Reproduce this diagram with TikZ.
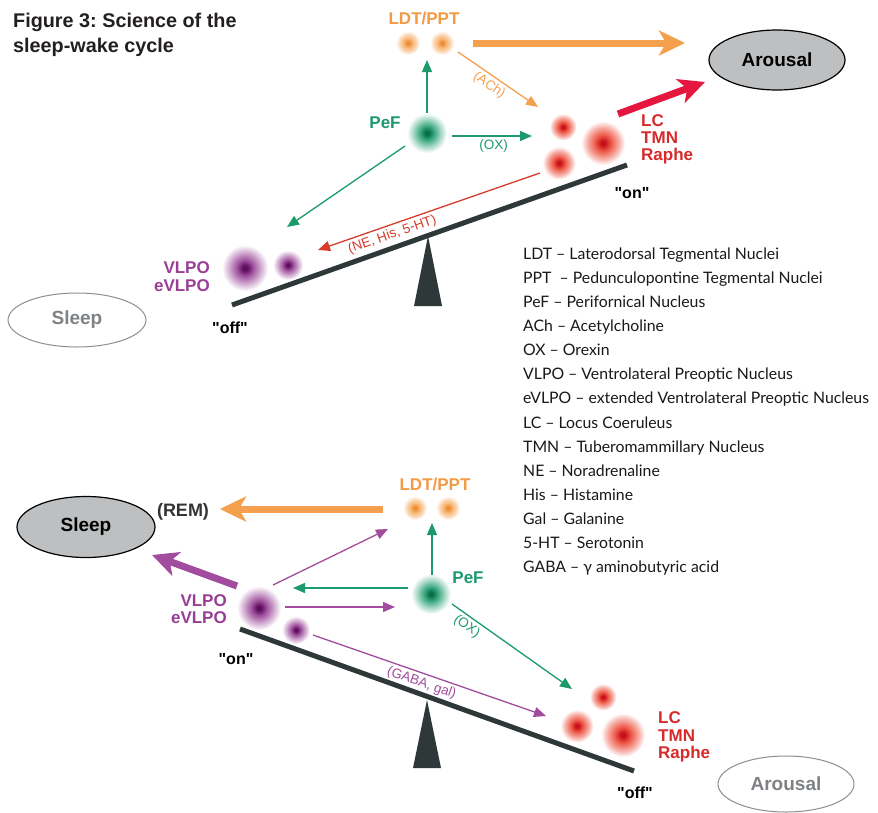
\documentclass[tikz,border=0pt]{standalone}
\usepackage{fontspec}
\setmainfont{Liberation Sans}
\newfontfamily\legfont{Lato}
\newfontfamily\qfont{Liberation Sans}[Ligatures=TeXOff]
\usetikzlibrary{arrows.meta,shapes.geometric}
\frenchspacing

\definecolor{orgC}{HTML}{F5A04E}
\definecolor{orgT}{HTML}{F39A45}
\definecolor{orgK}{HTML}{EE8A2E}
\definecolor{grnC}{HTML}{1B9A6C}
\definecolor{grnK}{HTML}{06704A}
\definecolor{redT}{HTML}{D62B2B}
\definecolor{redC}{HTML}{EA3B26}
\definecolor{redK}{HTML}{C8101A}
\definecolor{redA}{HTML}{E5173E}
\definecolor{redL}{HTML}{D63C2A}
\definecolor{purT}{HTML}{9A3E95}
\definecolor{purC}{HTML}{8A2A88}
\definecolor{purK}{HTML}{5E0E5E}
\definecolor{purA}{HTML}{A24C9E}
\definecolor{darkC}{HTML}{2F3838}
\definecolor{ellF}{HTML}{BDBFC1}
\definecolor{grayO}{HTML}{8C8E90}
\definecolor{grayT}{HTML}{7F8285}
\definecolor{titleC}{HTML}{231F20}

\colorlet{orgM}{orgC!80}\colorlet{orgL}{orgC!40}
\colorlet{grnM}{grnC!85}\colorlet{grnL}{grnC!35}
\colorlet{redM}{redC!85}\colorlet{redLt}{redC!40}
\colorlet{purM}{purC!80}\colorlet{purL}{purC!35}

\pgfdeclareradialshading{dotO}{\pgfpoint{0bp}{0bp}}{color(0bp)=(orgK); color(2.5bp)=(orgK); color(9bp)=(orgM); color(18bp)=(orgL); color(25bp)=(white); color(50bp)=(white)}
\pgfdeclareradialshading{dotG}{\pgfpoint{0bp}{0bp}}{color(0bp)=(grnK); color(2.5bp)=(grnK); color(9bp)=(grnM); color(18bp)=(grnL); color(25bp)=(white); color(50bp)=(white)}
\pgfdeclareradialshading{dotR}{\pgfpoint{0bp}{0bp}}{color(0bp)=(redK); color(2.5bp)=(redK); color(9bp)=(redM); color(18bp)=(redLt); color(25bp)=(white); color(50bp)=(white)}
\pgfdeclareradialshading{dotP}{\pgfpoint{0bp}{0bp}}{color(0bp)=(purK); color(2.5bp)=(purK); color(9bp)=(purM); color(18bp)=(purL); color(25bp)=(white); color(50bp)=(white)}

\begin{document}
\begin{tikzpicture}[x=1pt,y=-1pt,
  lbl/.style={font=\fontsize{17}{18}\selectfont\bfseries, inner sep=0pt},
  onoff/.style={font=\qfont\fontsize{16}{16}\selectfont\bfseries, inner sep=0pt, text=black, anchor=base},
  dotnode/.style={circle, inner sep=0pt, minimum size=#1, shade},
  thinarr/.style={line width=1.3pt, -{Triangle[length=12pt,width=10pt]}},
  fatarr/.style={line width=7pt, -{Stealth[length=26pt,width=25pt,inset=7pt]}},
  seesaw/.style={line width=5pt, draw=darkC},
  conlbl/.style={font=\fontsize{13.5}{13.5}\selectfont, inner sep=3pt, sloped},
  legtxt/.style={font=\legfont\fontsize{15.8}{15.8}\selectfont, anchor=base west, inner sep=0pt, text=black!90},
  ellnode/.style={ellipse, inner sep=0pt, font=\fontsize{19}{19}\selectfont\bfseries},
  titletxt/.style={font=\fontsize{19.8}{20}\selectfont\bfseries, text=titleC, anchor=base west, inner sep=0pt},
]
\useasboundingbox[fill=white] (0,0) rectangle (878,812);

% ---------------- title ----------------
\node[titletxt] (title1) at (13,27) {Figure 3: Science of the};
\node[titletxt] (title2) at (13,52) {sleep-wake cycle};

% ================= TOP (wake) =================
\coordinate (tsL) at (232,305);
\coordinate (tsR) at (627,165);
\draw[seesaw] (tsL) -- (tsR);
\coordinate (tfA) at (428,236);
\coordinate (tfL) at (414,306);
\coordinate (tfR) at (442,306);
\fill[darkC] (tfA) -- (tfL) -- (tfR) -- cycle;

\node[dotnode=24, shading=dotO] (ldtT1) at (408,43) {};
\node[dotnode=24, shading=dotO] (ldtT2) at (442,43) {};
\node[dotnode=40, shading=dotG] (pefT) at (427,133) {};
\node[dotnode=27, shading=dotR] (lcT1) at (563,127) {};
\node[dotnode=44, shading=dotR] (lcT2) at (603,143) {};
\node[dotnode=33, shading=dotR] (lcT3) at (559,163) {};
\node[dotnode=46, shading=dotP] (vlT1) at (245,268) {};
\node[dotnode=30, shading=dotP] (vlT2) at (288,265) {};

\node[lbl, text=orgT, anchor=base] (ldtTt) at (424,24) {LDT/PPT};
\node[lbl, text=grnC, anchor=base] (pefTt) at (385,128) {PeF};
\node[lbl, text=redT, anchor=base west] (lcTt1) at (641,126) {LC};
\node[lbl, text=redT, anchor=base west] (lcTt2) at (641,143) {TMN};
\node[lbl, text=redT, anchor=base west] (lcTt3) at (641,160) {Raphe};
\node[lbl, text=purT, anchor=base east] (vlTt1) at (210,273) {VLPO};
\node[lbl, text=purT, anchor=base east] (vlTt2) at (210,291) {eVLPO};
\node[onoff] (offT) at (230,333) {"off"};
\node[onoff] (onT) at (632,198) {"on"};

\node[ellnode, draw=black, line width=1.2pt, fill=ellF, minimum width=136, minimum height=60] (arT) at (777,60) {Arousal};
\node[ellnode, draw=grayO, line width=1pt, text=grayT, minimum width=138, minimum height=54] (slT) at (77,320) {Sleep};

\coordinate (a1s) at (473,43);  \coordinate (a1e) at (685,43);
\draw[fatarr, orgC] (a1s) -- (a1e);
\coordinate (a2s) at (618,114); \coordinate (a2e) at (705,82);
\draw[fatarr, redA] (a2s) -- (a2e);
\coordinate (a3s) at (427,113); \coordinate (a3e) at (427,60);
\draw[thinarr, grnC] (a3s) -- (a3e);
\coordinate (a4s) at (458,52);  \coordinate (a4e) at (538,107);
\draw[thinarr, orgC] (a4s) -- node[conlbl, below, pos=0.46, text=orgC] {(ACh)} (a4e);
\coordinate (a5s) at (452,136); \coordinate (a5e) at (532,136);
\draw[thinarr, grnC] (a5s) -- node[conlbl, below, pos=0.52, text=grnC] {(OX)} (a5e);
\coordinate (a6s) at (405,146); \coordinate (a6e) at (287,227);
\draw[thinarr, grnC] (a6s) -- (a6e);
\coordinate (a7s) at (540,173); \coordinate (a7e) at (318,250);
\draw[thinarr, redL] (a7s) -- node[conlbl, below, pos=0.68, text=redL] {(NE, His, 5-HT)} (a7e);

% ================= LEGEND =================
\foreach \t [count=\i from 0] in {LDT – Laterodorsal Tegmental Nuclei,
  PPT\ \ – Pedunculopontine Tegmental Nuclei,
  PeF – Perifornical Nucleus,
  ACh – Acetylcholine,
  OX – Orexin,
  VLPO – Ventrolateral Preoptic Nucleus,
  eVLPO – extended Ventrolateral Preoptic Nucleus,
  LC – Locus Coeruleus,
  TMN – Tuberomammillary Nucleus,
  NE – Noradrenaline,
  His – Histamine,
  Gal – Galanine,
  5-HT – Serotonin,
  GABA – γ aminobutyric acid}
  \node[legtxt] (leg\i) at (523,{259+24.15*\i}) {\t};

% ================= BOTTOM (sleep) =================
\coordinate (bsL) at (240,629);
\coordinate (bsR) at (634,771);
\draw[seesaw] (bsL) -- (bsR);
\coordinate (bfA) at (427,700);
\coordinate (bfL) at (413,768);
\coordinate (bfR) at (441,768);
\fill[darkC] (bfA) -- (bfL) -- (bfR) -- cycle;

\node[dotnode=24, shading=dotO] (ldtB1) at (415,508) {};
\node[dotnode=24, shading=dotO] (ldtB2) at (448,508) {};
\node[dotnode=40, shading=dotG] (pefB) at (431,594) {};
\node[dotnode=44, shading=dotP] (vlB1) at (259,608) {};
\node[dotnode=28, shading=dotP] (vlB2) at (296,630) {};
\node[dotnode=27, shading=dotR] (lcB1) at (603,697) {};
\node[dotnode=33, shading=dotR] (lcB2) at (577,726) {};
\node[dotnode=44, shading=dotR] (lcB3) at (623,735) {};

\node[lbl, text=orgT, anchor=base] (ldtBt) at (435,490) {LDT/PPT};
\node[lbl, text=grnC, anchor=base] (pefBt) at (468,583) {PeF};
\node[lbl, text=purT, anchor=base east] (vlBt1) at (227,606) {VLPO};
\node[lbl, text=purT, anchor=base east] (vlBt2) at (227,623) {eVLPO};
\node[lbl, text=redT, anchor=base west] (lcBt1) at (658,723) {LC};
\node[lbl, text=redT, anchor=base west] (lcBt2) at (658,741) {TMN};
\node[lbl, text=redT, anchor=base west] (lcBt3) at (658,758) {Raphe};
\node[lbl, text=black!80, anchor=base, font=\fontsize{18}{18}\selectfont\bfseries] (remt) at (183,516) {(REM)};
\node[onoff] (onB) at (236,664) {"on"};
\node[onoff] (offB) at (635,798) {"off"};

\node[ellnode, draw=black, line width=1.2pt, fill=ellF, minimum width=138, minimum height=61] (slB) at (86,527) {Sleep};
\node[ellnode, draw=grayO, line width=1pt, text=grayT, minimum width=136, minimum height=56] (arB) at (786,784) {Arousal};

\coordinate (b1s) at (383,509); \coordinate (b1e) at (220,509);
\draw[fatarr, orgC] (b1s) -- (b1e);
\coordinate (b2s) at (237,586); \coordinate (b2e) at (152,555);
\draw[fatarr, purA] (b2s) -- (b2e);
\coordinate (b3s) at (273,585); \coordinate (b3e) at (388,529);
\draw[thinarr, purA] (b3s) -- (b3e);
\coordinate (b4s) at (432,575); \coordinate (b4e) at (432,523);
\draw[thinarr, grnC] (b4s) -- (b4e);
\coordinate (b5s) at (408,588); \coordinate (b5e) at (293,588);
\draw[thinarr, grnC] (b5s) -- (b5e);
\coordinate (b6s) at (285,607); \coordinate (b6e) at (395,607);
\draw[thinarr, purA] (b6s) -- (b6e);
\coordinate (b7s) at (452,604); \coordinate (b7e) at (572,689);
\draw[thinarr, grnC] (b7s) -- node[conlbl, below, pos=0.17, text=grnC] {(OX)} (b7e);
\coordinate (b8s) at (313,635); \coordinate (b8e) at (546,716);
\draw[thinarr, purA] (b8s) -- node[conlbl, below, pos=0.48, text=purA] {(GABA, gal)} (b8e);
\end{tikzpicture}
\end{document}
